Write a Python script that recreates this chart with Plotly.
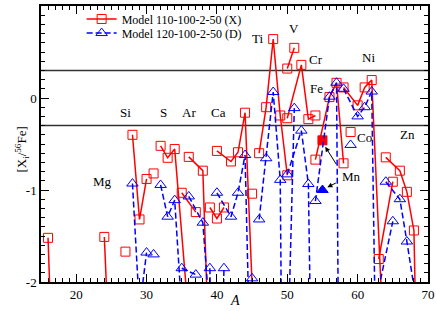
import plotly.graph_objects as go

# ---------------- data ----------------
iso_elem = ["O", "O", "O", "Mg", "Mg", "Mg", "Al", "Si", "Si", "Si", "P",
            "S", "S", "S", "S", "Cl", "Cl", "Ar", "Ar", "Ar", "K", "K", "K",
            "Ca", "Ca", "Ca", "Ca", "Ca", "Ca", "Sc", "Ti", "Ti", "Ti", "Ti", "Ti",
            "V", "V", "Cr", "Cr", "Cr", "Cr", "Mn", "Fe", "Fe", "Fe", "Fe", "Co",
            "Ni", "Ni", "Ni", "Ni", "Ni", "Cu", "Cu", "Zn", "Zn", "Zn", "Zn", "Zn"]
iso_A = [16, 17, 18, 24, 25, 26, 27, 28, 29, 30, 31,
         32, 33, 34, 36, 35, 37, 36, 38, 40, 39, 40, 41,
         40, 42, 43, 44, 46, 48, 45, 46, 47, 48, 49, 50,
         50, 51, 50, 52, 53, 54, 55, 54, 56, 57, 58, 59,
         58, 60, 61, 62, 64, 63, 65, 64, 66, 67, 68, 70]
model_X = [-1.52, -6.0, -6.0, -1.51, -3.3, -3.5, -1.67, -0.40, -1.32, -0.88, -0.82,
           -0.52, -0.65, -0.555, -2.4, -1.03, -1.24, -0.64, -0.79, -5.4, -1.19, -1.31, -1.19,
           -0.575, -0.69, -0.59, -0.16, -3.9, -6.0, -1.04, -0.60, -0.10, 0.64, -0.19, -0.84,
           0.32, 0.545, -0.22, 0.36, -0.23, -0.19, -0.46, -0.67, 0.01, 0.165, -0.71, -0.37,
           0.115, -0.08, 0.115, 0.195, -3.2, -1.75, -0.91, -0.645, -0.79, -1.02, -1.44, -9.0]
model_D = [-5.0, -5.0, -5.0, -5.0, -5.0, -5.0, -5.0, -0.93, -2.3, -1.68, -1.70,
           -0.945, -1.29, -1.11, -3.5, -1.85, -1.92, -1.07, -1.355, -3.4, -1.85, -6.0, -1.85,
           -1.03, -1.29, -1.03, -0.62, -7.0, -8.0, -1.96, -1.32, -0.655, 0.065, -0.89, -10.0,
           -3.0, -0.11, -0.83, -0.355, -0.935, -6.0, -1.0, -1.12, 0.014, 0.166, -10.0, -0.51,
           0.10, -0.20, -0.10, 0.07, -10.0, -2.07, -1.34, -0.91, -1.10, -1.56, -2.05, -5.0]
filled_elem = "Mn"

label_text = ["Mg", "Si", "S", "Ar", "Ca", "Ti", "V", "Cr", "Fe", "Ni", "Co", "Zn", "Mn"]
label_A = [23.8, 27.05, 32.45, 36.1, 40.2, 45.8, 50.9, 54.1, 54.1, 61.5, 61.0, 67.1, 59.1]
label_y = [-0.91, -0.16, -0.16, -0.16, -0.16, 0.65, 0.76, 0.42, 0.105, 0.44, -0.43, -0.40, -0.85]

ref_levels = [0.3, -0.3]
y_tickvals = [1, 0, -1, -2]
y_ticktext = ["1", "0", "-1", "-2"]
x_tickvals = [20, 30, 40, 50, 60, 70]
x_ticktext = ["20", "30", "40", "50", "60", "70"]

FONT = "Liberation Serif, Times New Roman, serif"


def build(vals, open_sym, fill_sym):
    xs, ys, syms = [], [], []
    prev = None
    for e, a, v in zip(iso_elem, iso_A, vals):
        if prev is not None and e != prev:
            xs.append(None)
            ys.append(None)
            syms.append(open_sym)
        xs.append(a)
        ys.append(v)
        syms.append(fill_sym if e == filled_elem else open_sym)
        prev = e
    return xs, ys, syms


fig = go.Figure()

xr, yr, sr = build(model_X, "square-open", "square")
fig.add_trace(go.Scatter(
    x=xr, y=yr, mode="lines+markers", name="Model 110-100-2-50 (X)",
    line=dict(color="#ff0000", width=1.5),
    marker=dict(symbol=sr, size=9, color="#ff0000", line=dict(color="#ff0000", width=1)),
    connectgaps=False, legend="legend"))

xb, yb, sb = build(model_D, "triangle-up-open", "triangle-up")
fig.add_trace(go.Scatter(
    x=xb, y=yb, mode="lines+markers", name="Model 120-100-2-50 (D)",
    line=dict(color="#0000ff", width=1.5, dash="6px,3px"),
    marker=dict(symbol=sb, size=10, color="#0000ff", line=dict(color="#0000ff", width=1)),
    connectgaps=False, legend="legend2"))

for lv in ref_levels:
    fig.add_shape(type="line", xref="paper", yref="y", x0=0, x1=1, y0=lv, y1=lv,
                  line=dict(color="#333333", width=1.5), layer="below")

for t, a, v in zip(label_text, label_A, label_y):
    fig.add_annotation(x=a, y=v, text=t, showarrow=False,
                       font=dict(family=FONT, size=13, color="black"))

# Mn arrows
mn_i = iso_elem.index("Mn")
fig.add_annotation(x=iso_A[mn_i] + 0.4, y=model_X[mn_i] - 0.07, ax=12, ay=19, text="",
                   showarrow=True, arrowhead=2, arrowsize=1, arrowwidth=1, arrowcolor="black")
fig.add_annotation(x=iso_A[mn_i] + 0.7, y=model_D[mn_i] + 0.03, ax=10, ay=-5, text="",
                   showarrow=True, arrowhead=2, arrowsize=1, arrowwidth=1, arrowcolor="black")

# axis titles
fig.add_annotation(xref="paper", yref="paper", x=0.5, y=-0.1, text="<i>A</i>",
                   showarrow=False, font=dict(family=FONT, size=14, color="black"))
fig.add_annotation(xref="paper", yref="paper", x=-0.08, y=0.48,
                   text="[X<sub>i</sub>/<sup>56</sup>Fe]", textangle=-90,
                   showarrow=False, font=dict(family=FONT, size=13, color="black"))

axis_common = dict(showline=True, linecolor="black", linewidth=1.5, mirror="allticks",
                   ticks="inside", tickcolor="black", tickwidth=1, ticklen=8,
                   showgrid=False, zeroline=False, automargin=False,
                   tickfont=dict(family=FONT, size=13, color="black"))

fig.update_xaxes(range=[15, 70], tickvals=x_tickvals, ticktext=x_ticktext,
                 minor=dict(dtick=1, ticks="inside", ticklen=4, tickcolor="black", showgrid=False),
                 **axis_common)
fig.update_yaxes(range=[-2, 1], tickvals=y_tickvals, ticktext=y_ticktext,
                 minor=dict(dtick=0.1, ticks="inside", ticklen=4, tickcolor="black", showgrid=False),
                 **axis_common)

legend_common = dict(xanchor="left", yanchor="middle", bgcolor="rgba(0,0,0,0)", borderwidth=0,
                     font=dict(family=FONT, size=12, color="black"), itemwidth=30)
fig.update_layout(
    width=436, height=311,
    margin=dict(l=41, r=8, t=6, b=29, autoexpand=False),
    paper_bgcolor="white", plot_bgcolor="white",
    font=dict(family=FONT, size=13, color="black"),
    showlegend=True,
    legend=dict(x=0.105, y=0.953, **legend_common),
    legend2=dict(x=0.105, y=0.902, **legend_common),
)

fig.write_html("out.html", config={"displayModeBar": False},
               post_script="document.body.style.margin='0px';")
